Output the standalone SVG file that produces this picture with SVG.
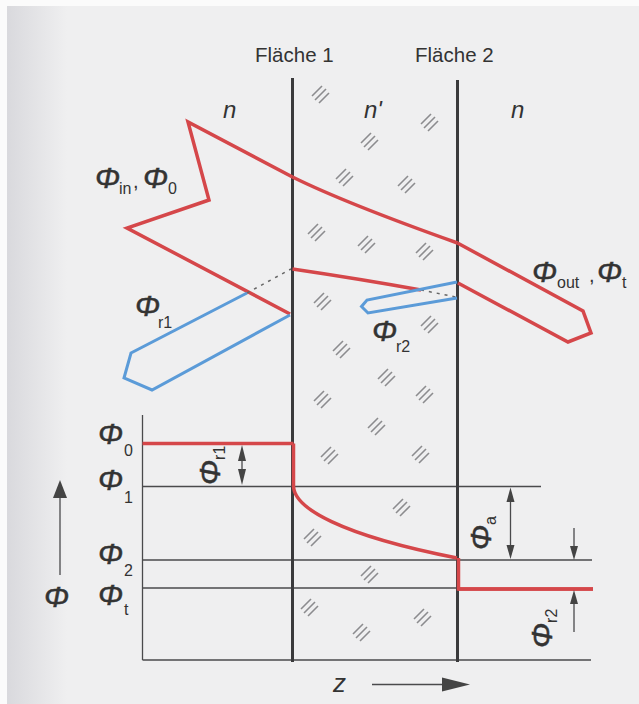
<svg xmlns="http://www.w3.org/2000/svg" width="639" height="704" viewBox="0 0 639 704">
<style>
.bg{fill:#efeff0}
.plane{stroke:#3a3a3c;stroke-width:3;fill:none}
.thin{stroke:#4a4a4c;stroke-width:1.3;fill:none}
.red{stroke:#d5474a;stroke-width:3.5;fill:none;stroke-linejoin:miter}
.blue{stroke:#5b9bd8;stroke-width:3;fill:none;stroke-linejoin:miter}
.dot{stroke:#666;stroke-width:1.5;stroke-dasharray:3 5;fill:none}
.hat line{stroke:#8c8c8e;stroke-width:1.6}
.lbl{font-family:"Liberation Sans",Arial,sans-serif;fill:#333}
.phi{font-family:"Liberation Sans",Arial,sans-serif;font-style:italic;font-size:30px;fill:#333;stroke:#333;stroke-width:0.5}
.sub{font-family:"Liberation Sans",Arial,sans-serif;font-style:normal;font-size:16px;fill:#333;stroke:none}
.ah{fill:#444}
</style>
<defs>
<linearGradient id="lg" x1="0" y1="0" x2="1" y2="0">
<stop offset="0" stop-color="#d9d9dd"/>
<stop offset="1" stop-color="#efeff0"/>
</linearGradient>
<g id="h" class="hat">
<line x1="-9" y1="1" x2="1" y2="-9"/>
<line x1="-6" y1="5" x2="5" y2="-6"/>
<line x1="-2" y1="8" x2="8" y2="-2"/>
</g>
</defs>
<rect width="639" height="704" fill="#fbfbfb"/>
<rect x="7" y="6" width="632" height="698" class="bg"/>
<rect x="7" y="6" width="60" height="698" fill="url(#lg)"/>

<g id="hatching">
<use href="#h" x="321" y="95"/><use href="#h" x="430" y="123"/><use href="#h" x="370" y="142"/>
<use href="#h" x="345" y="178"/><use href="#h" x="407" y="185"/><use href="#h" x="317" y="233"/>
<use href="#h" x="367" y="245"/><use href="#h" x="425" y="252"/><use href="#h" x="323" y="302"/>
<use href="#h" x="430" y="325"/><use href="#h" x="342" y="350"/><use href="#h" x="387" y="378"/>
<use href="#h" x="323" y="400"/><use href="#h" x="425" y="395"/><use href="#h" x="377" y="427"/>
<use href="#h" x="330" y="456"/><use href="#h" x="421" y="455"/><use href="#h" x="402" y="508"/>
<use href="#h" x="313" y="538"/><use href="#h" x="370" y="575"/><use href="#h" x="310" y="608"/>
<use href="#h" x="423" y="618"/><use href="#h" x="362" y="633"/>
</g>

<g id="plot-axes">
<line class="thin" x1="142.5" y1="415" x2="142.5" y2="660"/>
<line class="thin" x1="142.5" y1="486.5" x2="541" y2="486.5"/>
<line class="thin" x1="142.5" y1="560" x2="592" y2="560"/>
<line class="thin" x1="142.5" y1="588" x2="458" y2="588"/>
<line class="thin" x1="142.5" y1="660" x2="591" y2="660"/>
</g>

<g id="surfaces">
<line class="plane" x1="292.5" y1="78" x2="292.5" y2="662"/>
<line class="plane" x1="457.5" y1="80" x2="457.5" y2="662"/>
<text class="lbl" x="255" y="62" font-size="20.5">Fläche 1</text>
<text class="lbl" x="415" y="62" font-size="20.5">Fläche 2</text>
</g>

<g id="media">
<text class="lbl" x="223" y="118" font-size="24" font-style="italic">n</text>
<text class="lbl" x="364" y="118" font-size="24" font-style="italic">n'</text>
<text class="lbl" x="511" y="118" font-size="24" font-style="italic">n</text>
</g>

<g id="connectors">
<polyline id="beam-in" class="red" points="292.5,177 188,122 209,200 127,228 290,314"/>
<path class="red" d="M292.5,177 Q345,203 457.5,243"/>
<path class="red" d="M292.5,269 Q360,279 421,290"/>
<line class="dot" x1="421" y1="290" x2="456" y2="297"/>
<polyline id="beam-out" class="red" points="457.5,243 583,311 591,333 568,342 458,283"/>
<polyline id="beam-r1" class="blue" points="290,315 152,390 124,378 131,353 247,293"/>
<line class="dot" x1="247" y1="293" x2="291" y2="269"/>
<polyline id="beam-r2" class="blue" points="457,282 367,300 361.5,306.5 368,313 457,298"/>
</g>

<g id="beam-labels">
<text class="phi" x="95" y="188">Φ</text><text class="sub" x="119" y="194">in</text>
<text class="lbl" x="133" y="188" font-size="20">,</text>
<text class="phi" x="143" y="188">Φ</text><text class="sub" x="168" y="194">0</text>
<text class="phi" x="135" y="316">Φ</text><text class="sub" x="158" y="328">r1</text>
<text class="phi" x="372" y="341">Φ</text><text class="sub" x="396" y="352">r2</text>
<text class="phi" x="532" y="282">Φ</text><text class="sub" x="557" y="288">out</text>
<text class="lbl" x="589" y="282" font-size="20">,</text>
<text class="phi" x="597" y="282">Φ</text><text class="sub" x="622" y="288">t</text>
</g>

<g id="profile">
<line class="red" x1="142.5" y1="443.5" x2="293.5" y2="443.5" stroke-width="4"/>
<path class="red" d="M293.5,443.5 V486 C294,508 340,535 457,558"/>
<path class="red" d="M458.5,558 V589 H593" />
<line class="red" x1="458" y1="589" x2="593" y2="589" stroke-width="4"/>
</g>

<g id="profile-labels">
<text class="phi" x="98" y="444">Φ</text><text class="sub" x="124" y="456">0</text>
<text class="phi" x="98" y="490">Φ</text><text class="sub" x="124" y="503">1</text>
<text class="phi" x="98" y="564">Φ</text><text class="sub" x="124" y="576">2</text>
<text class="phi" x="98" y="605">Φ</text><text class="sub" x="124" y="615">t</text>
<text class="phi" x="44" y="607">Φ</text>
<line class="thin" x1="60" y1="575" x2="60" y2="495" stroke-width="1.6"/>
<polygon class="ah" points="60,480 53,498 67,498"/>
<text class="lbl" x="333" y="692" font-size="26" font-style="italic">z</text>
<line class="thin" x1="372" y1="684.5" x2="445" y2="684.5" stroke-width="1.6"/>
<polygon class="ah" points="470,684.5 442,677.5 442,691.5"/>
</g>

<g id="dimensions">
<line class="thin" x1="242" y1="450" x2="242" y2="480"/>
<polygon class="ah" points="242,445 238,461 246,461"/>
<polygon class="ah" points="242,485 238,469 246,469"/>
<text class="phi" transform="translate(220,485) rotate(-90)">Φ<tspan class="sub" dy="5">r1</tspan></text>

<line class="thin" x1="510.5" y1="492" x2="510.5" y2="555"/>
<polygon class="ah" points="510.5,487.5 506.5,502 514.5,502"/>
<polygon class="ah" points="510.5,559 506.5,545 514.5,545"/>
<text class="phi" transform="translate(491,550) rotate(-90)">Φ<tspan class="sub" dy="5">a</tspan></text>

<line class="thin" x1="574" y1="528" x2="574" y2="550"/>
<polygon class="ah" points="574,560 570,546 578,546"/>
<line class="thin" x1="574" y1="600" x2="574" y2="632"/>
<polygon class="ah" points="574,590 570,604 578,604"/>
<text class="phi" transform="translate(552,648) rotate(-90)">Φ<tspan class="sub" dy="5">r2</tspan></text>
</g>
</svg>
